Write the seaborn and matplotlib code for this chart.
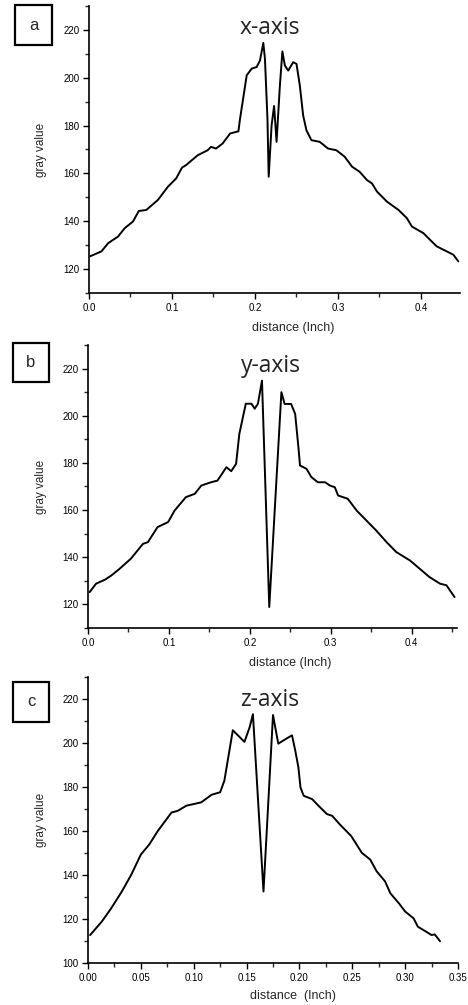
import numpy as np
import pandas as pd
import matplotlib.pyplot as plt
import seaborn as sns
from matplotlib.patches import Rectangle
from matplotlib.ticker import MultipleLocator, FormatStrFormatter

# Gray value profiles along the three axes
x_dist = [0.001, 0.015, 0.023, 0.035, 0.043, 0.053, 0.060, 0.069, 0.083, 0.095,
          0.105, 0.112, 0.117, 0.131, 0.143, 0.147, 0.153, 0.161, 0.170, 0.180,
          0.182, 0.190, 0.196, 0.202, 0.206, 0.210, 0.212, 0.215, 0.2165, 0.220,
          0.223, 0.226, 0.230, 0.233, 0.236, 0.240, 0.246, 0.250, 0.254, 0.258,
          0.262, 0.268, 0.278, 0.288, 0.298, 0.308, 0.317, 0.326, 0.335, 0.341,
          0.347, 0.359, 0.373, 0.383, 0.389, 0.403, 0.411, 0.419, 0.431, 0.439,
          0.445]
x_gray = [125.3, 127.4, 130.8, 133.6, 137.1, 139.9, 144.3, 144.7, 148.9, 154.4,
          157.9, 162.4, 163.5, 167.6, 169.7, 171.1, 170.4, 172.5, 176.7, 177.6,
          182.9, 201.0, 203.8, 204.5, 207.2, 214.6, 207.9, 182.9, 158.6, 180.1,
          188.2, 173.2, 196.8, 211.0, 205.1, 203.0, 206.5, 205.8, 196.8, 184.3,
          178.0, 173.9, 173.2, 170.4, 169.7, 167.0, 162.8, 160.7, 157.2, 155.8,
          152.4, 148.2, 144.7, 141.3, 137.8, 135.0, 132.2, 129.5, 127.4, 126.0,
          123.2]

y_dist = [0.002, 0.010, 0.021, 0.029, 0.039, 0.053, 0.068, 0.074, 0.086, 0.099,
          0.107, 0.121, 0.132, 0.140, 0.152, 0.160, 0.167, 0.171, 0.177, 0.183,
          0.187, 0.195, 0.202, 0.206, 0.210, 0.215, 0.224, 0.239, 0.243, 0.251,
          0.256, 0.260, 0.262, 0.270, 0.276, 0.284, 0.293, 0.299, 0.305, 0.309,
          0.321, 0.332, 0.344, 0.356, 0.369, 0.381, 0.398, 0.410, 0.422, 0.435,
          0.443, 0.453]
y_gray = [125.2, 128.8, 130.5, 132.3, 135.1, 139.4, 145.7, 146.4, 152.8, 154.9,
          159.8, 165.5, 166.9, 170.4, 171.8, 172.5, 176.1, 178.2, 176.5, 179.6,
          192.3, 205.1, 205.1, 203.0, 205.1, 214.9, 118.9, 210.0, 205.0, 205.0,
          200.8, 186.7, 178.9, 177.5, 174.0, 171.8, 171.8, 170.4, 169.7, 166.2,
          164.8, 159.8, 155.6, 151.4, 146.4, 142.2, 138.6, 135.1, 131.6, 128.8,
          128.1, 123.1]

z_dist = [0.002, 0.013, 0.022, 0.032, 0.041, 0.050, 0.058, 0.066, 0.079, 0.085,
          0.093, 0.107, 0.117, 0.125, 0.129, 0.137, 0.148, 0.153, 0.156, 0.159,
          0.166, 0.172, 0.175, 0.180, 0.185, 0.193, 0.196, 0.199, 0.201, 0.204,
          0.212, 0.218, 0.226, 0.231, 0.238, 0.249, 0.254, 0.259, 0.267, 0.273,
          0.281, 0.286, 0.294, 0.300, 0.308, 0.312, 0.320, 0.325, 0.328, 0.333]
z_gray = [112.7, 118.8, 124.9, 132.5, 140.2, 149.3, 153.9, 160.0, 168.4, 169.2,
          171.5, 173.0, 176.5, 177.6, 182.9, 205.8, 200.5, 207.3, 213.1, 189.0,
          132.5, 186.0, 212.7, 199.7, 201.2, 203.5, 196.7, 189.0, 179.8, 176.0,
          174.5, 171.5, 167.7, 166.9, 163.1, 157.7, 153.9, 150.1, 147.0, 141.7,
          137.1, 131.7, 127.2, 123.4, 120.3, 116.5, 114.2, 112.7, 113.0, 109.9]

panel_letters = ["a", "b", "c"]
panel_titles = ["x-axis", "y-axis", "z-axis"]
xlabels = ["distance (Inch)", "distance (Inch)", "distance  (Inch)"]

sns.set_style("ticks")
plt.rcParams['font.family'] = ['Liberation Sans', 'DejaVu Sans']

fig = plt.figure(figsize=(4.68, 10.05), dpi=100)
W, H = 468, 1005

# axes boxes in pixels: left, right, top, bottom
boxes = [(89, 460, 6, 293), (88, 457, 345, 628), (88, 458, 677, 963)]
letter_boxes = [(15, 5, 37, 40), (13, 343, 36, 39), (13, 682, 36, 40)]
xlims = [(0, 0.447), (0, 0.456), (0, 0.35)]
ylims = [(110, 230), (110, 230), (100, 230)]
xmajor = [0.1, 0.1, 0.05]
xfmt = ["%.1f", "%.1f", "%.2f"]
xlab_pos = [(0.55, -0.101), (0.547, -0.102), (0.554, -0.094)]
title_pos = [(0.488, 0.925), (0.495, 0.927), (0.49, 0.92)]

profiles = [(x_dist, x_gray), (y_dist, y_gray), (z_dist, z_gray)]

for i, (dist, gray) in enumerate(profiles):
    l, r, t, b = boxes[i]
    ax = fig.add_axes([l / W, 1 - b / H, (r - l) / W, (b - t) / H])
    df = pd.DataFrame({'distance': dist, 'gray': gray})
    sns.lineplot(data=df, x='distance', y='gray', ax=ax, sort=False,
                 estimator=None, color='black', linewidth=1.4)
    ax.set_xlim(*xlims[i])
    ax.set_ylim(*ylims[i])
    ax.xaxis.set_major_locator(MultipleLocator(xmajor[i]))
    ax.xaxis.set_minor_locator(MultipleLocator(xmajor[i] / 2))
    ax.xaxis.set_major_formatter(FormatStrFormatter(xfmt[i]))
    ax.yaxis.set_major_locator(MultipleLocator(20))
    ax.yaxis.set_minor_locator(MultipleLocator(10))
    sns.despine(ax=ax)
    for s in ['left', 'bottom']:
        ax.spines[s].set_linewidth(1.2)
        ax.spines[s].set_color('black')
    ax.tick_params(which='major', direction='out', length=4, width=1, labelsize=7, pad=3, colors='black')
    ax.tick_params(which='minor', direction='out', length=3, width=1)
    ax.set_xlabel(xlabels[i], fontsize=9)
    ax.set_ylabel("gray value", fontsize=8.5)
    ax.xaxis.set_label_coords(*xlab_pos[i])
    ax.yaxis.set_label_coords(-(l - 47) / (r - l), 0.5)
    ax.text(title_pos[i][0], title_pos[i][1], panel_titles[i], transform=ax.transAxes,
            ha='center', va='center', fontsize=16.5, family=['Open Sans', 'DejaVu Sans'],
            color='#222222')

    bx, by, bw, bh = letter_boxes[i]
    fig.patches.append(Rectangle((bx / W, 1 - (by + bh) / H), bw / W, bh / H,
                                 transform=fig.transFigure, fill=False,
                                 edgecolor='black', linewidth=1.6))
    fig.text((bx + bw / 2) / W, 1 - (by + bh / 2) / H, panel_letters[i],
             ha='center', va='center', fontsize=12)

fig.savefig("out.png", dpi=100)
